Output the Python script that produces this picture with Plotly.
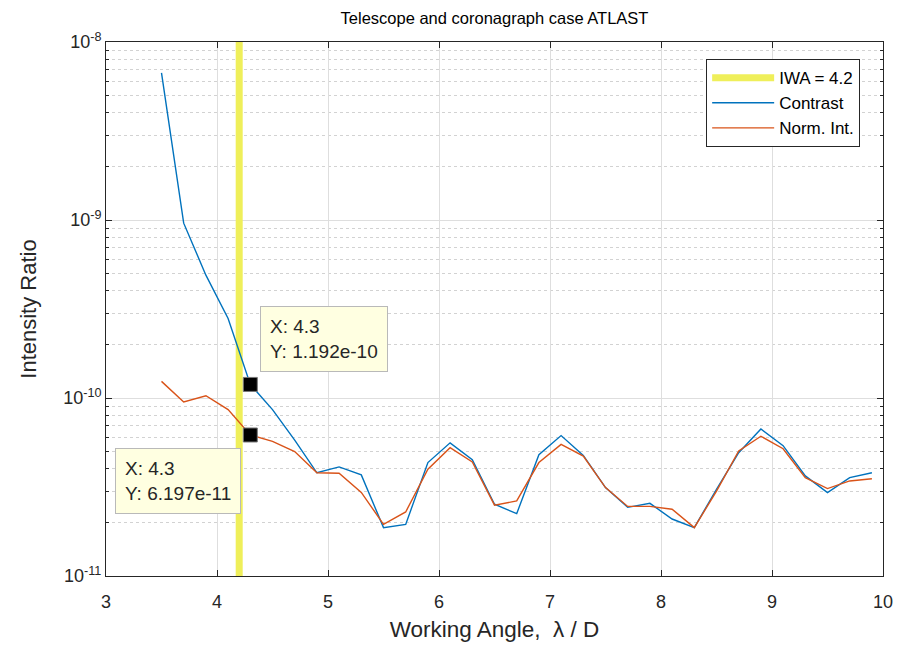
import numpy as np
import plotly.graph_objects as go

# Working angle samples (lambda / D)
angle = [3.5, 3.7, 3.9, 4.1, 4.3, 4.5, 4.7, 4.9, 5.1, 5.3, 5.5, 5.7, 5.9, 6.1, 6.3,
         6.5, 6.7, 6.9, 7.1, 7.3, 7.5, 7.7, 7.9, 8.1, 8.3, 8.5, 8.7, 8.9, 9.1, 9.3,
         9.5, 9.7, 9.9]

# Raw contrast curve
contrast = [6.7e-9, 9.6e-10, 4.9e-10, 2.8e-10, 1.192e-10, 8.6e-11, 5.8e-11, 3.8e-11,
            4.1e-11, 3.7e-11, 1.87e-11, 1.95e-11, 4.34e-11, 5.6e-11, 4.5e-11, 2.53e-11,
            2.24e-11, 4.8e-11, 6.15e-11, 4.76e-11, 3.14e-11, 2.43e-11, 2.56e-11, 2.09e-11,
            1.87e-11, 3.07e-11, 4.93e-11, 6.7e-11, 5.4e-11, 3.65e-11, 2.94e-11, 3.57e-11,
            3.8e-11]

# Normalized intensity curve
norm_int = [1.24e-10, 9.5e-11, 1.03e-10, 8.6e-11, 6.197e-11, 5.7e-11, 5.0e-11, 3.8e-11,
            3.78e-11, 2.95e-11, 1.95e-11, 2.29e-11, 3.98e-11, 5.26e-11, 4.37e-11, 2.5e-11,
            2.64e-11, 4.34e-11, 5.49e-11, 4.72e-11, 3.14e-11, 2.46e-11, 2.46e-11, 2.37e-11,
            1.87e-11, 3.0e-11, 5.04e-11, 6.1e-11, 5.19e-11, 3.57e-11, 3.1e-11, 3.42e-11,
            3.52e-11]

iwa = 4.2          # inner working angle
tip_x = 4.3        # sample picked out with data tips

x_range = [3, 10]
y_decades = [-11, -10, -9, -8]
y_tick_text = ["10<sup>-11</sup>", "10<sup>-10</sup>", "10<sup>-9</sup>", "10<sup>-8</sup>"]

FONT = "Liberation Sans, Arial, Helvetica, sans-serif"
INK = "#262626"
BLUE = "#0072BD"
ORANGE = "#D95319"
YELLOW = "#EFEF5A"

minor_vals = [k * 10.0 ** d for d in y_decades[:-1] for k in range(2, 10)]

fig = go.Figure()

fig.add_trace(go.Scatter(
    x=[iwa, iwa], y=[10.0 ** y_decades[0], 10.0 ** y_decades[-1]],
    mode="lines", line=dict(color=YELLOW, width=7),
    name=f"IWA = {iwa:g}"))
fig.add_trace(go.Scatter(
    x=angle, y=contrast, mode="lines", line=dict(color=BLUE, width=1.4),
    name="Contrast"))
fig.add_trace(go.Scatter(
    x=angle, y=norm_int, mode="lines", line=dict(color=ORANGE, width=1.4),
    name="Norm. Int."))

i_tip = angle.index(tip_x)
tip_vals = [contrast[i_tip], norm_int[i_tip]]
fig.add_trace(go.Scatter(
    x=[tip_x, tip_x], y=tip_vals, mode="markers", showlegend=False,
    marker=dict(symbol="square", size=14, color="black",
                line=dict(color="#777777", width=1))))

# data tip boxes: upper one to the right, lower one to the left
tip_layout = [dict(xanchor="left", yanchor="bottom", xshift=10, yshift=12),
              dict(xanchor="right", yanchor="top", xshift=-9, yshift=-13)]
for v, lay in zip(tip_vals, tip_layout):
    fig.add_annotation(
        x=tip_x, y=np.log10(v), xref="x", yref="y", showarrow=False,
        text=f"X: {tip_x:g}<br>Y: {v:.4g}", align="left",
        font=dict(family=FONT, size=19, color=INK),
        bgcolor="rgb(255,255,225)", bordercolor="rgb(185,185,185)",
        borderwidth=1, borderpad=9, **lay)

fig.update_layout(
    width=905, height=649,
    margin=dict(l=106, r=17, t=42, b=72),
    paper_bgcolor="white", plot_bgcolor="white",
    font=dict(family=FONT, color=INK),
    title=dict(text="Telescope and coronagraph case ATLAST", x=0.5, xref="paper",
               xanchor="center", y=0.972, yanchor="middle",
               font=dict(family=FONT, size=16.5, color="#000000")),
    showlegend=True,
    legend=dict(x=0.9706, y=0.968, xanchor="right", yanchor="top",
                bgcolor="white", bordercolor=INK, borderwidth=1,
                font=dict(family=FONT, size=17, color="#000000"),
                itemwidth=62, tracegroupgap=0),
)

fig.update_xaxes(
    range=x_range, dtick=1, tick0=3,
    showline=True, linecolor=INK, linewidth=1, mirror="ticks",
    ticks="inside", ticklen=6, tickcolor=INK, ticklabelstandoff=9,
    showgrid=True, gridcolor="#DEDEDE", gridwidth=1, zeroline=False,
    tickfont=dict(family=FONT, size=18, color=INK),
    title=dict(text="Working Angle,  λ / D", standoff=10,
               font=dict(family=FONT, size=22.5, color=INK)),
)

fig.update_yaxes(
    type="log", range=[y_decades[0], y_decades[-1]],
    tickmode="array", tickvals=[10.0 ** d for d in y_decades], ticktext=y_tick_text,
    showline=True, linecolor=INK, linewidth=1, mirror="ticks",
    ticks="inside", ticklen=6, tickcolor=INK,
    showgrid=True, gridcolor="#DEDEDE", gridwidth=1, zeroline=False,
    tickfont=dict(family=FONT, size=18, color=INK),
    minor=dict(tickmode="array", tickvals=minor_vals, ticks="inside", ticklen=3,
               tickcolor=INK, showgrid=True, gridcolor="#D2D2D2", griddash="dot",
               gridwidth=1),
    title=dict(text="Intensity Ratio", standoff=20,
               font=dict(family=FONT, size=22, color=INK)),
)

fig.write_html("out.html")
